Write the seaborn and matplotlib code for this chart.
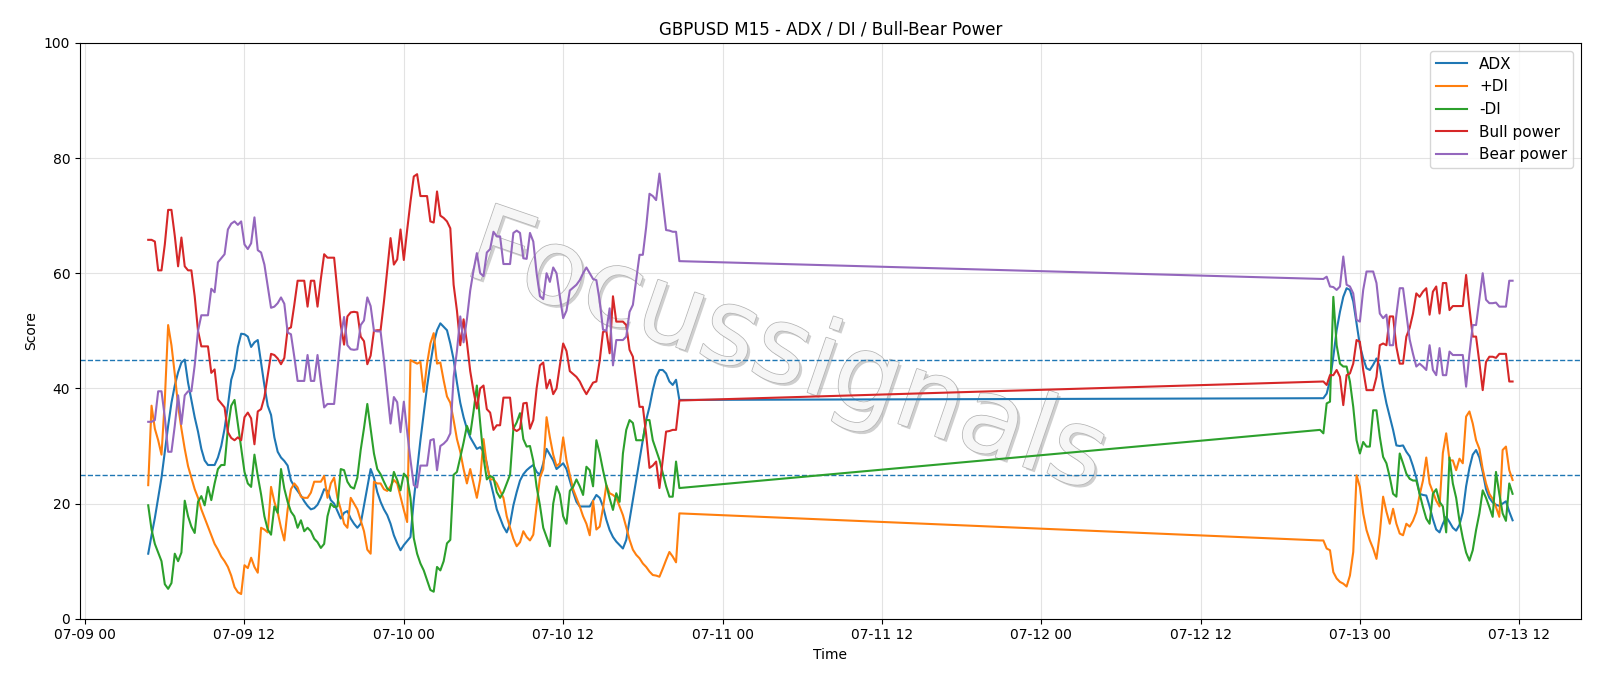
import numpy as np
import pandas as pd
import matplotlib
matplotlib.use("Agg")
import matplotlib.pyplot as plt
import matplotlib.dates as mdates
import matplotlib.patheffects as pe
import seaborn as sns

# ---- time axis: two M15 sessions separated by the weekend gap ----
times_a = pd.date_range("2025-07-09 04:45", periods=161, freq="15min")
times_b = pd.date_range("2025-07-12 21:00", periods=59, freq="15min")

adx_a = [11.3, 14.5, 17.5, 21, 24.5, 29, 33.5, 37.5, 40.5, 42.8,
         44.5, 45, 41, 38, 35, 32.5, 29.5, 27.5, 26.7, 26.7,
         26.7, 28, 30, 33, 37, 41.5, 43.4, 47.2, 49.5, 49.4,
         49, 47.2, 48, 48.4, 44.5, 40.5, 37, 35.4, 31.5, 29,
         28, 27.4, 26.6, 24, 23, 22.2, 21.4, 20.4, 19.6, 19,
         19.2, 19.8, 21, 22.5, 22.2, 20.6, 20, 18.7, 17.4, 18.4,
         18.7, 17.4, 16.5, 15.8, 16.5, 19.7, 22.9, 26, 24.5, 22,
         20.3, 19, 18, 16.5, 14.5, 13.1, 11.9, 12.8, 13.5, 14.2,
         20.6, 25.8, 31, 35.7, 40.3, 44.3, 47.8, 50.1, 51.3, 50.7,
         50.1, 47.8, 45, 41, 37.5, 35, 33, 31.5, 30.5, 29.5,
         29.8, 29, 27, 24, 21.6, 19, 17.5, 16, 15, 16.5,
         19.7, 22, 24, 25.1, 25.8, 26.3, 26.7, 25.5, 25, 27,
         29.5, 28.5, 27.5, 26, 26.5, 27, 26, 24, 22, 20.3,
         19.5, 19.5, 19.5, 19.5, 20.5, 21.5, 21, 19.5, 17.2, 15.4,
         14.2, 13.4, 12.8, 12.2, 13.7, 17.2, 20.6, 24.1, 27.6, 31,
         34.5, 36.8, 39.7, 42, 43.2, 43.2, 42.6, 41.2, 40.6, 41.5,
         38]
adx_b = [38.3, 38.3, 39.1, 41.4, 45.5, 50.1, 53.3, 55.9, 57.4, 57.1,
         55.1, 51.3, 47.5, 45.2, 43.5, 43.2, 44.1, 45.2, 43.8, 40.3,
         37.4, 35.1, 32.8, 30.1, 30, 30.1, 29, 28.2, 26.5, 24.5,
         21.7, 21.5, 21.4, 19.5, 17.3, 15.5, 15, 16.5, 17.7, 16.8,
         15.8, 15.3, 16.3, 18.5, 23, 26.2, 28.5, 29.3, 28, 25.5,
         22.5, 21, 20.2, 19.8, 19.6, 20, 20.4, 18.6, 17.1]

pdi_a = [23.2, 37, 33, 31, 28.5, 38, 51, 47.5, 42.5, 37,
         33, 29.5, 26.5, 24.5, 22.5, 21, 19, 17.5, 16, 14.5,
         13, 12, 10.8, 10, 9, 7.5, 5.5, 4.6, 4.3, 9.3,
         8.8, 10.6, 9, 8, 15.8, 15.5, 15, 22.9, 20.3, 18.5,
         15.8, 13.6, 19, 22.5, 23.5, 22.8, 21.2, 21, 21, 21.9,
         23.8, 23.8, 23.8, 24.8, 21, 23.5, 24.5, 21, 19, 16.5,
         15.8, 21, 20, 19, 17.1, 15.2, 12, 11.3, 23.8, 23.5,
         23.5, 22.5, 22.2, 23, 24.1, 23.5, 21.2, 18.9, 16.8, 44.9,
         44.6, 44.3, 44.6, 39.4, 44.3, 47.8, 49.6, 44.3, 44.5, 41.4,
         38.6, 37.5, 34.5, 31.2, 29, 26, 23.5, 26, 23.5, 21,
         24.2, 31.2, 26.7, 24.2, 24.2, 23.5, 22.2, 21, 17.8, 15.8,
         13.9, 12.6, 13.3, 15.2, 14.2, 13.6, 14.6, 19.7, 24.5, 26,
         35, 31.5, 28.5, 26.5, 27, 31.5, 27.5, 25, 22.5, 21,
         19.5, 17.8, 16.5, 14.5, 20.5, 15.5, 16, 19.2, 23.2, 21.8,
         21.5, 21, 19.5, 18, 15.9, 13.7, 12, 11.1, 10.5, 9.6,
         9, 8.2, 7.6, 7.5, 7.3, 8.7, 10.2, 11.6, 10.8, 9.8,
         18.3]
pdi_b = [13.6, 13.6, 12.2, 11.9, 8.1, 7, 6.4, 6.1, 5.6, 7.5,
         11.6, 24.9, 22.9, 18.3, 15.4, 13.6, 12.2, 10.4, 14.8, 21.2,
         18.6, 16.5, 19.1, 16.5, 14.8, 14.5, 16.5, 16, 17, 18.5,
         21.5, 24, 28, 23.5, 22, 20.5, 19.5, 28.8, 32.2, 27.5,
         27.5, 25.8, 27.8, 27, 35.1, 36, 33.9, 31, 29.5, 26,
         23.5, 21.7, 20.8, 19.4, 17.7, 29.3, 29.9, 25.8, 24.1]

mdi_a = [19.7, 15.5, 13, 11.5, 10, 6, 5.2, 6.2, 11.3, 10,
         11.5, 20.5, 17.8, 16, 14.9, 20.3, 21.3, 19.7, 22.9, 20.6,
         23.5, 26, 26.7, 26.7, 33, 37, 38, 33.8, 29.5, 25.5,
         23.5, 22.9, 28.5, 24.8, 21.6, 17.8, 15.5, 14.6, 19.5, 18.4,
         26, 22.6, 20.3, 18.6, 17.8, 15.8, 17.1, 15.2, 15.8, 15.2,
         13.9, 13.3, 12.3, 13, 17.8, 20, 19.4, 19.5, 26, 25.8,
         23.8, 22.9, 22.6, 24.5, 29.3, 33.1, 37.3, 33, 28.7, 26,
         25.1, 23.8, 22.6, 22.2, 25.5, 24.1, 22.3, 25.2, 24.5, 21,
         14, 11.3, 9.6, 8.4, 6.7, 5, 4.7, 9, 8.4, 10,
         13.1, 13.7, 25, 25.5, 28, 30.6, 33.5, 32, 36, 40.5,
         34, 28, 24.2, 24.8, 24.5, 22, 21, 22, 23.5, 25,
         33, 34.1, 35.7, 31.2, 29.9, 30, 27.4, 22.9, 19.7, 15.8,
         14.2, 12.6, 20, 23, 21.6, 17.8, 16.5, 22.2, 22.9, 24.2,
         23, 21.5, 26.4, 25.8, 23, 31, 28.7, 25.8, 23.2, 20.9,
         18.9, 21.8, 20.3, 28.7, 32.8, 34.5, 34, 31, 31, 31,
         34.5, 34.5, 31, 29.3, 27.6, 25.3, 23, 21.2, 21.2, 27.3,
         22.7]
mdi_b = [32.8, 32.2, 37.4, 37.7, 55.9, 47.5, 44.3, 43.8, 43.8, 41.2,
         36.8, 31, 28.7, 30.7, 29.9, 29.9, 36.2, 36.2, 31.6, 28.1,
         27, 24.6, 21.7, 21.2, 28.7, 27, 25.2, 24.3, 24, 24,
         21.7, 19.4, 17.4, 16.5, 21.7, 22.5, 20.3, 19.5, 15, 28,
         23.5, 21, 17, 14, 11.5, 10.1, 11.9, 15.4, 18.3, 22.3,
         21, 19.4, 17.7, 25.5, 21.7, 18.3, 17, 23.5, 21.7]

bull_a = [65.8, 65.8, 65.5, 60.5, 60.5, 65, 71, 71, 66.5, 61.2,
          66.2, 61.2, 60.5, 60.5, 56, 50, 47.3, 47.3, 47.3, 42.7,
          43.3, 38.1, 37.4, 36.7, 32.4, 31.4, 31, 31.5, 31, 35,
          35.8, 34.8, 30.3, 36, 36.4, 38.5, 42.3, 46, 45.8, 45.2,
          44.2, 45.3, 50.3, 50.6, 54.5, 58.7, 58.7, 58.7, 54.2, 58.7,
          58.7, 54.2, 59, 63.3, 62.7, 62.7, 62.7, 56.8, 51, 47.6,
          52.5, 53.2, 53.3, 53.2, 49, 48.2, 44.2, 45.7, 50, 50.1,
          50.1, 55, 60.5, 66.1, 61.5, 62.4, 67.6, 62.3, 67.5, 72.4,
          76.8, 77.2, 73.4, 73.4, 73.4, 69, 68.8, 74.2, 70, 69.6,
          69, 67.8, 58, 53.5, 47.5, 52, 48, 43, 39.5, 36.5,
          40, 40.5, 36.4, 35.8, 32.8, 33.6, 33.6, 38.4, 38.4, 38.4,
          33, 32.6, 33, 37.4, 37.5, 33, 34.5, 40, 44, 44.5,
          40, 41.5, 39, 40, 44, 47.8, 46.5, 43, 42.5, 42,
          41.2, 40, 39, 40, 41, 41.2, 44.8, 49.8, 50, 46.1,
          56, 51.6, 51.6, 51.6, 51, 46.7, 45.5, 41.2, 36.8, 36.8,
          32, 26.2, 26.6, 27.3, 22.7, 27.6, 32.5, 32.6, 32.8, 32.8,
          37.9]
bull_b = [41.2, 41.2, 40.6, 42.3, 42.3, 43.2, 42, 37.1, 42.3, 42.6,
          44.3, 48.4, 48.1, 43.2, 39.7, 39.7, 39.7, 42, 47.5, 47.8,
          47.5, 52.5, 52.5, 47.2, 44.3, 44.3, 49, 50.5, 53, 56.5,
          55.9, 56.8, 57.4, 52.8, 56.8, 57.7, 53, 58.3, 58.3, 53.6,
          54.3, 54.3, 54.3, 54.3, 59.7, 54, 49, 49, 44.5, 39.7,
          44.6, 45.5, 45.5, 45.3, 46, 46, 46, 41.2, 41.2]

bear_a = [34.2, 34.2, 34.5, 39.5, 39.5, 35, 29, 29, 33.5, 38.8,
          33.8, 38.8, 39.5, 39.5, 44, 50, 52.7, 52.7, 52.7, 57.3,
          56.7, 61.9, 62.6, 63.3, 67.6, 68.6, 69, 68.4, 69, 65,
          64.2, 65.2, 69.7, 64, 63.6, 61.5, 57.7, 54, 54.2, 54.8,
          55.8, 54.7, 49.7, 49.4, 45.5, 41.3, 41.3, 41.3, 45.8, 41.3,
          41.3, 45.8, 41, 36.7, 37.3, 37.3, 37.3, 43.2, 49, 52.4,
          47.5, 46.8, 46.7, 46.8, 51, 51.8, 55.8, 54.3, 50, 49.9,
          49.9, 45, 39.5, 33.9, 38.5, 37.6, 32.4, 37.7, 32.5, 27.6,
          23.2, 22.8, 26.6, 26.6, 26.6, 31, 31.2, 25.8, 30, 30.4,
          31, 32.2, 42, 46.5, 52.5, 48, 52, 57, 60.5, 63.5,
          60, 59.5, 63.6, 64.2, 67.2, 66.4, 66.4, 61.6, 61.6, 61.6,
          67, 67.4, 67, 62.6, 62.5, 67, 65.5, 60, 56, 55.5,
          60, 58.5, 61, 60, 56, 52.2, 53.5, 57, 57.5, 58,
          58.8, 60, 61, 60, 59, 58.8, 55.2, 50.2, 50, 53.9,
          44, 48.4, 48.4, 48.4, 49, 53.3, 54.5, 58.8, 63.2, 63.2,
          68, 73.8, 73.4, 72.7, 77.3, 72.4, 67.5, 67.4, 67.2, 67.2,
          62.1]
bear_b = [59, 59, 59.4, 57.7, 57.6, 57.1, 57.7, 62.9, 58, 57.7,
          56.5, 51.9, 51.6, 57.1, 60.3, 60.3, 60.3, 58.3, 53, 52.2,
          52.8, 47.5, 47.5, 52.8, 57.4, 57.4, 53, 48.5, 46, 43.8,
          44.3, 43.8, 43.2, 47.5, 43.2, 42.3, 47, 42.3, 42.3, 46.4,
          45.8, 45.8, 45.8, 45.8, 40.3, 46, 51, 51, 55.5, 60,
          55.4, 54.8, 54.8, 54.9, 54.2, 54.2, 54.2, 58.7, 58.7]

series_names = ["ADX", "+DI", "-DI", "Bull power", "Bear power"]
series_colors = ["#1f77b4", "#ff7f0e", "#2ca02c", "#d62728", "#9467bd"]
levels = [25, 45]

times = times_a.append(times_b)
values = [adx_a + adx_b, pdi_a + pdi_b, mdi_a + mdi_b, bull_a + bull_b, bear_a + bear_b]
df = pd.DataFrame({
    "Time": np.tile(times.values, len(series_names)),
    "Score": np.concatenate([np.asarray(v, dtype=float) for v in values]),
    "Series": np.repeat(series_names, len(times)),
})

fig, ax = plt.subplots(figsize=(16, 6.86), dpi=100)
fig.subplots_adjust(left=0.05, right=0.988, top=0.9375, bottom=0.098)

sns.lineplot(data=df, x="Time", y="Score", hue="Series", hue_order=series_names,
             palette=series_colors, linewidth=1.5, estimator=None, ax=ax, zorder=3)

for lv in levels:
    ax.axhline(lv, color="#1f77b4", linestyle="--", linewidth=1.0, zorder=2)

ax.text(0.471, 0.459, "Focussignals", transform=ax.transAxes, rotation=-19,
        fontsize=76, family="DejaVu Sans", fontweight="normal", color="#f6f6f6",
        ha="center", va="center", zorder=1,
        path_effects=[pe.withSimplePatchShadow(offset=(2, -2),
                                               shadow_rgbFace="#a0a0a0", alpha=0.5),
                      pe.withStroke(linewidth=1.1, foreground="#b4b4b4")])

ax.set_ylim(0, 100)
ax.grid(True, color="#dddddd", linewidth=0.8, alpha=0.8)
ax.set_axisbelow(True)
ax.xaxis.set_major_locator(mdates.HourLocator(byhour=[0, 12]))
ax.xaxis.set_major_formatter(mdates.DateFormatter("%m-%d %H"))
ax.set_xlabel("Time")
ax.set_ylabel("Score")
ax.set_title("GBPUSD M15 - ADX / DI / Bull-Bear Power", fontsize=12)
ax.legend(loc="upper right", fontsize=11)

fig.savefig("out.png", dpi=100)
